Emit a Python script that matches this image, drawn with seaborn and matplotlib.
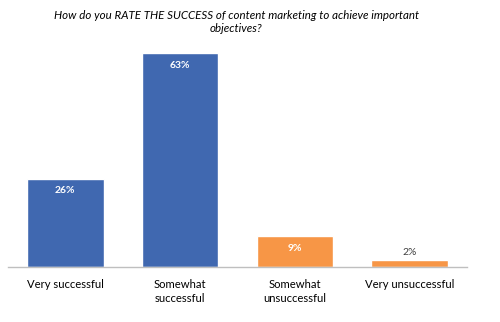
import matplotlib
matplotlib.use("Agg")
import matplotlib.pyplot as plt
import seaborn as sns
import pandas as pd

categories = ["Very successful", "Somewhat\nsuccessful", "Somewhat\nunsuccessful", "Very unsuccessful"]
values = [26, 63, 9, 2]
labels = ["26%", "63%", "9%", "2%"]
colors = ["#4068B0", "#4068B0", "#F79646", "#F79646"]

sns.set_style("white")
plt.rcParams['font.family'] = ['Lato', 'DejaVu Sans']

df = pd.DataFrame({"cat": categories, "val": values})
fig = plt.figure(figsize=(5, 3.22), dpi=100)
ax = fig.add_axes([0.016, 0.171, 0.918, 0.705])
sns.barplot(data=df, x="cat", y="val", hue="cat", palette=colors, width=0.665,
            legend=False, ax=ax, saturation=1)
ax.set_xlim(-0.5, 3.5)
ax.set_ylim(0, 67)
ax.set_xlabel("")
ax.set_ylabel("")
ax.set_yticks([])
for s in ["top", "right", "left"]:
    ax.spines[s].set_visible(False)
ax.spines["bottom"].set_color("#BFBFBF")
ax.spines["bottom"].set_linewidth(1)
ax.set_xticks([0, 1, 2, 3])
ax.set_xticklabels(categories, fontsize=8.1, color="#000000", linespacing=1.25)
ax.tick_params(axis="x", which="major", length=0, pad=9)
ax.set_xticks([-0.5, 0.5, 1.5, 2.5, 3.5], minor=True)
ax.tick_params(axis="x", which="minor", length=4, color="#BFBFBF", width=1)

for i, (v, lab) in enumerate(zip(values, labels)):
    if v >= 5:
        ax.text(i, v - 2.2, lab, ha="center", va="top", color="white",
                fontsize=7.5, fontweight="bold")
    else:
        ax.text(i, v + 1.0, lab, ha="center", va="bottom", color="#404040",
                fontsize=7.5)

fig.text(0.473, 0.968, "How do you RATE THE SUCCESS of content marketing to achieve important\nobjectives?",
         ha="center", va="top", fontsize=8.3, style="italic", color="#000000", linespacing=1.2)

fig.savefig("out.png", dpi=100, facecolor="white")
